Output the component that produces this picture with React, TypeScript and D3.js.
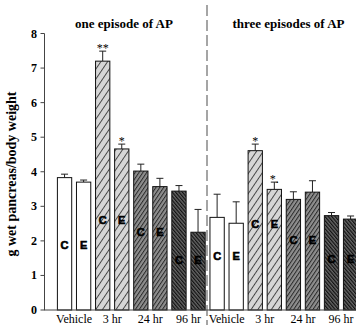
import React from "react";
import * as d3 from "d3";

const groups = ["Vehicle", "3 hr", "24 hr", "96 hr"];
const episodes = ["one episode of AP", "three episodes of AP"];
const kinds = ["C", "E"];
const meansOne = [3.83, 3.7, 7.2, 4.66, 4.02, 3.57, 3.44, 2.25];
const semOne = [0.1, 0.06, 0.29, 0.14, 0.2, 0.24, 0.16, 0.66];
const meansThree = [2.68, 2.51, 4.61, 3.49, 3.2, 3.41, 2.73, 2.63];
const semThree = [0.67, 0.62, 0.19, 0.21, 0.22, 0.33, 0.09, 0.09];
const sigOne = ["", "", "**", "*", "", "", "", ""];
const sigThree = ["", "", "*", "*.", "", "", "", ""];
const labelLevelOne = [1.88, 2.6, 2.26, 1.45];
const labelLevelThree = [1.56, 2.49, 2.03, 1.48];
const yTicks = [0, 1, 2, 3, 4, 5, 6, 7, 8];
const yTitle = "g wet pancreas/body weight";

const W = 356;
const H = 325;
const serif = "'Liberation Serif', 'DejaVu Serif'";
const sans = "'Liberation Sans', 'DejaVu Sans'";

const fills = ["#ffffff", "url(#p3)", "url(#p24)", "url(#p96)"];

export default function App() {
  const y = d3.scaleLinear().domain([0, 8]).range([310, 33.5]);
  const ids = d3.range(16);
  const x = d3
    .scaleBand<number>()
    .domain(ids)
    .range([57.4, 57.4 + 15 * 19.07 + 14.3])
    .paddingInner(0.25)
    .paddingOuter(0);
  const bw = x.bandwidth();

  const bars = episodes.flatMap((ep, e) => {
    const means = e === 0 ? meansOne : meansThree;
    const sems = e === 0 ? semOne : semThree;
    const sigs = e === 0 ? sigOne : sigThree;
    const levels = e === 0 ? labelLevelOne : labelLevelThree;
    return means.map((m, i) => ({
      idx: e * 8 + i,
      mean: m,
      sem: sems[i],
      sig: sigs[i],
      group: Math.floor(i / 2),
      kind: kinds[i % 2],
      level: levels[Math.floor(i / 2)],
    }));
  });

  const divX = 207;
  const serifStyle = { fontFamily: serif };
  const sansStyle = { fontFamily: sans };

  return (
    <svg
      width={W}
      height={H}
      style={{ position: "absolute", left: 0, top: 0, background: "#fff" }}
    >
      <defs>
        <pattern id="p3" patternUnits="userSpaceOnUse" width={5.6} height={10} patternTransform="rotate(34)">
          <rect width={5.6} height={10} fill="#d6d6d6" />
          <line x1={0.5} y1={0} x2={0.5} y2={10} stroke="#333" strokeWidth={0.9} />
        </pattern>
        <pattern id="p24" patternUnits="userSpaceOnUse" width={3.2} height={10} patternTransform="rotate(34)">
          <rect width={3.2} height={10} fill="#8e8e8e" />
          <line x1={0.5} y1={0} x2={0.5} y2={10} stroke="#2a2a2a" strokeWidth={1} />
        </pattern>
        <pattern id="p96" patternUnits="userSpaceOnUse" width={2.6} height={10} patternTransform="rotate(-40)">
          <rect width={2.6} height={10} fill="#666" />
          <line x1={0.6} y1={0} x2={0.6} y2={10} stroke="#111" strokeWidth={1.2} />
        </pattern>
      </defs>

      {/* divider */}
      <line x1={divX} x2={divX} y1={5} y2={325} stroke="#888" strokeWidth={1.5} strokeDasharray="11,4" />

      {/* titles */}
      <text x={124} y={27.5} textAnchor="middle" style={serifStyle} fontWeight="bold" fontSize={13}>
        {episodes[0]}
      </text>
      <text x={288.5} y={27.5} textAnchor="middle" style={serifStyle} fontWeight="bold" fontSize={13}>
        {episodes[1]}
      </text>

      {/* y axis */}
      <line x1={44.5} x2={44.5} y1={y(8)} y2={y(0)} stroke="#444" strokeWidth={1} />
      {yTicks.map((t) => (
        <g key={t}>
          <line x1={40.5} x2={44.5} y1={y(t)} y2={y(t)} stroke="#444" strokeWidth={1} />
          <text x={37} y={y(t) + 4} textAnchor="end" style={serifStyle} fontWeight="bold" fontSize={12}>
            {t}
          </text>
        </g>
      ))}
      <text
        transform={`translate(16,174) rotate(-90)`}
        textAnchor="middle"
        style={serifStyle}
        fontWeight="bold"
        fontSize={14}
      >
        {yTitle}
      </text>

      {/* bars */}
      {bars.map((b) => {
        const x0 = x(b.idx) as number;
        const cx = x0 + bw / 2;
        const top = y(b.mean);
        const et = y(b.mean + b.sem);
        return (
          <g key={b.idx}>
            <line x1={cx} x2={cx} y1={top} y2={et} stroke="#222" strokeWidth={1} />
            <line x1={cx - 3.5} x2={cx + 3.5} y1={et} y2={et} stroke="#222" strokeWidth={1} />
            <rect
              x={x0}
              y={top}
              width={bw}
              height={y(0) - top}
              fill={fills[b.group]}
              stroke="#111"
              strokeWidth={1}
            />
            <text
              x={cx}
              y={y(b.level) + 4}
              textAnchor="middle"
              style={sansStyle}
              fontWeight="bold"
              fontSize={11}
              fill="#000"
              stroke="#000"
              strokeWidth={0.6}
            >
              {b.kind}
            </text>
            {b.sig && (
              <text x={cx} y={et + 1} textAnchor="middle" style={serifStyle} fontSize={12}>
                {b.sig}
              </text>
            )}
          </g>
        );
      })}

      {/* x axis */}
      <line x1={44} x2={W} y1={y(0)} y2={y(0)} stroke="#444" strokeWidth={1} />

      {/* group labels */}
      {episodes.flatMap((ep, e) =>
        groups.map((g, gi) => {
          const a = x(e * 8 + gi * 2) as number;
          const c = (x(e * 8 + gi * 2 + 1) as number) + bw;
          return (
            <text
              key={ep + g}
              x={(a + c) / 2}
              y={322.5}
              textAnchor="middle"
              style={serifStyle}
              fontSize={12}
            >
              {g}
            </text>
          );
        })
      )}
    </svg>
  );
}
